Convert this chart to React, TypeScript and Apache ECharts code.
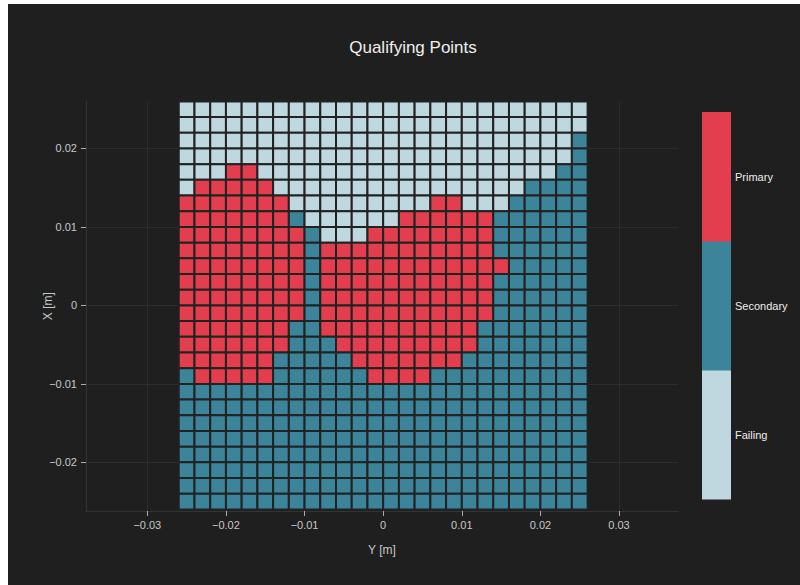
import React, { useEffect, useRef } from "react";
import * as echarts from "echarts";

// Cell centres (metres)
const xCenters = [
  -0.025, -0.023, -0.021, -0.019, -0.017, -0.015, -0.013, -0.011, -0.009, -0.007, -0.005, -0.003, -0.001,
  0.001, 0.003, 0.005, 0.007, 0.009, 0.011, 0.013, 0.015, 0.017, 0.019, 0.021, 0.023, 0.025,
];
// top row first
const yCenters = [
  0.025, 0.023, 0.021, 0.019, 0.017, 0.015, 0.013, 0.011, 0.009, 0.007, 0.005, 0.003, 0.001,
  -0.001, -0.003, -0.005, -0.007, -0.009, -0.011, -0.013, -0.015, -0.017, -0.019, -0.021, -0.023, -0.025,
];
const cellSize = 0.002;

// F = Failing, S = Secondary, P = Primary (one string per row, top to bottom)
const statusRows = [
  "FFFFF FFFFF FFFFF FFFFF FFFFF F",
  "FFFFF FFFFF FFFFF FFFFF FFFFF F",
  "FFFFF FFFFF FFFFF FFFFF FFFFF S",
  "FFFFF FFFFF FFFFF FFFFF FFFFF S",
  "FFFPP FFFFF FFFFF FFFFF FFFFS S",
  "FPPPP PFFFF FFFFF FFFFF FFSSS S",
  "PPPPP PPFFF FFFFF FPPFF FSSSS S",
  "PPPPP PPSFF FFFFP PPPPP SSSSS S",
  "PPPPP PPPSF FFPPP PPPPP SSSSS S",
  "PPPPP PPPSP PPPPP PPPPP SSSSS S",
  "PPPPP PPPSP PPPPP PPPPP PSSSS S",
  "PPPPP PPPSP PPPPP PPPPP SSSSS S",
  "PPPPP PPPSP PPPPP PPPPP SSSSS S",
  "PPPPP PPPSP PPPPP PPPPP SSSSS S",
  "PPPPP PPSSP PPPPP PPPPS SSSSS S",
  "PPPPP PPSSS PPPPP PPPPS SSSSS S",
  "PPPPP PSSSS SPPPP PPPSS SSSSS S",
  "SPPPP PSSSS SSPPP PSSSS SSSSS S",
  "SSSSS SSSSS SSSSS SSSSS SSSSS S",
  "SSSSS SSSSS SSSSS SSSSS SSSSS S",
  "SSSSS SSSSS SSSSS SSSSS SSSSS S",
  "SSSSS SSSSS SSSSS SSSSS SSSSS S",
  "SSSSS SSSSS SSSSS SSSSS SSSSS S",
  "SSSSS SSSSS SSSSS SSSSS SSSSS S",
  "SSSSS SSSSS SSSSS SSSSS SSSSS S",
  "SSSSS SSSSS SSSSS SSSSS SSSSS S",
];

const statusCodes = ["F", "S", "P"];
const statusNames = ["Failing", "Secondary", "Primary"];
const statusColors = ["#bfd8df", "#3b849a", "#e23e4e"];

const xTicks = [-0.03, -0.02, -0.01, 0, 0.01, 0.02, 0.03];
const yTicks = [-0.02, -0.01, 0, 0.01, 0.02];

const FONT = "Arial, 'Liberation Sans', sans-serif";

function fmt(v: number): string {
  const r = Math.round(v * 100) / 100;
  if (r === 0) return "0";
  const s = String(Math.abs(r));
  return r < 0 ? "\u2212" + s : s;
}

export default function App() {
  const ref = useRef<HTMLDivElement>(null);
  useEffect(() => {
    if (!ref.current) return;
    document.body.style.overflow = "hidden";
    const chart = echarts.init(ref.current, null, { renderer: "svg" });

    const data: number[][] = [];
    statusRows.forEach((row, ri) => {
      const cells = row.replace(/\s+/g, "");
      for (let ci = 0; ci < cells.length; ci++) {
        data.push([xCenters[ci], yCenters[ri], statusCodes.indexOf(cells[ci])]);
      }
    });

    // colour bar geometry (container coordinates)
    const cbX = 694;
    const cbTop = 108;
    const cbW = 29;
    const cbH = 387;
    const segH = cbH / statusNames.length;
    const cbElements: any[] = [];
    statusNames.forEach((name, i) => {
      const fromTop = statusNames.length - 1 - i;
      cbElements.push({
        type: "rect",
        shape: { x: cbX, y: cbTop + fromTop * segH, width: cbW, height: segH + 0.5 },
        style: { fill: statusColors[i] },
      });
      cbElements.push({
        type: "text",
        x: cbX + cbW + 4,
        y: cbTop + fromTop * segH + segH / 2,
        style: {
          text: name,
          fill: "#eeeeee",
          font: `11px ${FONT}`,
          textVerticalAlign: "middle",
          verticalAlign: "middle",
        },
      });
    });

    chart.setOption({
      animation: false,
      backgroundColor: "#1f1f1f",
      title: {
        text: "Qualifying Points",
        left: 400,
        textAlign: "center",
        top: 30,
        textStyle: { color: "#eeeeee", fontSize: 17, fontWeight: "normal", fontFamily: FONT },
      },
      grid: { left: 78, top: 97.4, width: 592, height: 409.6 },
      xAxis: {
        type: "value",
        min: -0.0378,
        max: 0.0375,
        name: "Y [m]",
        nameLocation: "middle",
        nameGap: 33,
        nameMoveOverlap: false,
        nameTextStyle: { color: "#c8c8c8", fontSize: 12, fontFamily: FONT },
        axisLine: { show: true, onZero: false, lineStyle: { color: "#333333" } },
        axisTick: { show: true, length: 5, customValues: xTicks, lineStyle: { color: "#aaaaaa" } },
        axisLabel: {
          customValues: xTicks,
          color: "#c8c8c8",
          fontSize: 11,
          fontFamily: FONT,
          margin: 8,
          formatter: (v: number) => fmt(v),
        },
        splitLine: { show: true, lineStyle: { color: "#2c2c2c", width: 1 } },
      },
      yAxis: {
        type: "value",
        min: -0.0262,
        max: 0.026,
        name: "X [m]",
        nameLocation: "middle",
        nameGap: 32,
        nameMoveOverlap: false,
        nameTextStyle: { color: "#c8c8c8", fontSize: 12, fontFamily: FONT },
        axisLine: { show: true, onZero: false, lineStyle: { color: "#333333" } },
        axisTick: { show: true, length: 5, customValues: yTicks, lineStyle: { color: "#aaaaaa" } },
        axisLabel: {
          customValues: yTicks,
          color: "#c8c8c8",
          fontSize: 11,
          fontFamily: FONT,
          margin: 9,
          formatter: (v: number) => fmt(v),
        },
        splitLine: { show: true, lineStyle: { color: "#2c2c2c", width: 1 } },
      },
      series: [
        {
          type: "custom",
          data,
          renderItem: (params: any, api: any) => {
            const x = api.value(0);
            const y = api.value(1);
            const s = api.value(2);
            const h = cellSize / 2;
            const p0 = api.coord([x - h, y + h]);
            const p1 = api.coord([x + h, y - h]);
            return {
              type: "rect",
              shape: { x: p0[0], y: p0[1], width: p1[0] - p0[0], height: p1[1] - p0[1] },
              style: { fill: statusColors[s], stroke: "#222222", lineWidth: 2 },
            };
          },
        },
      ],
      graphic: cbElements,
    });
    return () => chart.dispose();
  }, []);
  return (
    <div
      ref={ref}
      style={{ position: "absolute", left: 8, top: 4, width: 792, height: 590 }}
    />
  );
}
